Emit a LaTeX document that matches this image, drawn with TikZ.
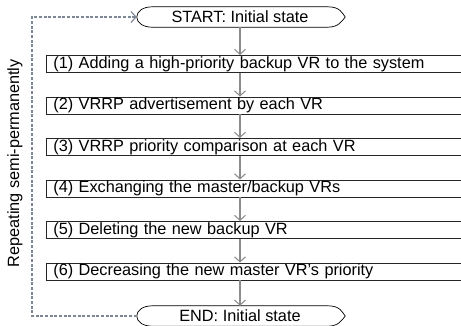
\documentclass[tikz,border=0pt]{standalone}
\usepackage{fontspec}
\setmainfont{Liberation Sans}
\usetikzlibrary{positioning,arrows.meta,calc}

\definecolor{loopgray}{RGB}{125,135,150}

\begin{document}
\begin{tikzpicture}[
    node distance=0.714cm,
    font=\fontsize{13.9}{16}\selectfont,
    stepbox/.style={rectangle, draw=black!85, line width=0.6pt, text width=12.48cm, align=left, inner xsep=0.21cm, inner ysep=0pt, minimum height=0.51cm},
    term/.style={rectangle, minimum width=5.22cm, minimum height=0.6cm, inner sep=0pt},
    arrow/.style={-{Straight Barb[length=0.15cm, width=0.33cm]}, draw=black!45, line width=0.9pt},
    repeatline/.style={arrow, draw=loopgray, line width=1pt, dash pattern=on 0.09cm off 0.05cm}
]
    \useasboundingbox (0,0) rectangle (13.83,-9.75);

    \node[term] (start) at (7.2,-0.51) {START: Initial state};
    \node[stepbox, anchor=north west] (s1) at (1.38,-1.65) {(1) Adding a high-priority backup VR to the system};
    \node[stepbox, below=of s1] (s2) {(2) VRRP advertisement by each VR};
    \node[stepbox, below=of s2] (s3) {(3) VRRP priority comparison at each VR};
    \node[stepbox, below=of s3] (s4) {(4) Exchanging the master/backup VRs};
    \node[stepbox, below=of s4] (s5) {(5) Deleting the new backup VR};
    \node[stepbox, below=of s5] (s6) {(6) Decreasing the new master VR's priority};
    \node[term] (stop) at (7.2,-9.48) {END: Initial state};
    \node[rotate=90] (label) at (0.45,-4.9) {Repeating semi-permanently};

    % terminator outlines
    \foreach \t in {start,stop} {
        \coordinate (\t-w) at ([xshift=-0.48cm]\t.west);
        \coordinate (\t-e) at ([xshift=0.54cm]\t.east);
        \draw[line width=0.6pt] (\t.north west) .. controls +(-0.3,0) and +(0,0.17) .. (\t-w)
            .. controls +(0,-0.17) and +(-0.3,0) .. (\t.south west) -- (\t.south east)
            .. controls +(0.35,0) and +(-0.1,-0.12) .. (\t-e)
            .. controls +(-0.1,0.12) and +(0.4,0) .. (\t.north east) -- cycle;
    }

    \draw[arrow] (start) -- (s1.north -| start);
    \foreach \a/\b in {s1/s2, s2/s3, s3/s4, s4/s5, s5/s6}
        \draw[arrow] (\a.south -| start) -- (\b.north -| start);
    \draw[arrow] (s6.south -| start) -- (stop);

    % repeat loop
    \coordinate (back) at (0.96,-5);
    \draw[repeatline] (stop-w) -- (stop-w -| back) |- (start-w);
\end{tikzpicture}
\end{document}
